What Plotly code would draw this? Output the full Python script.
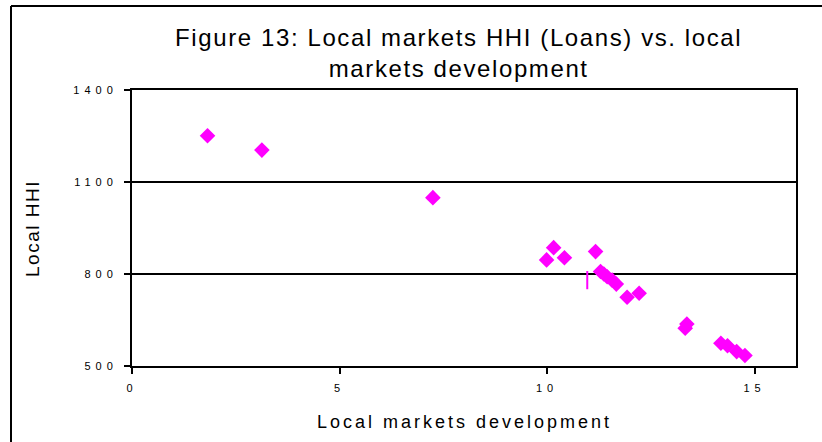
import plotly.graph_objects as go

# Data
dev = [1.82, 3.13, 7.25, 9.99, 10.16, 10.42, 11.17, 11.29, 11.37, 11.45, 11.57,
       11.67, 11.93, 12.22, 13.33, 13.37, 14.19, 14.35, 14.57, 14.77]
hhi = [1251, 1204, 1049, 846, 886, 853, 873, 808, 800, 791, 780,
       767, 724, 737, 623, 637, 574, 566, 547, 534]

# the odd little vertical mark near the cluster
mark_x = [10.97]
mark_y = [780]

x_ticks = [0, 5, 10, 15]
y_ticks = [500, 800, 1100, 1400]

FONT = "Liberation Sans, Arial, sans-serif"


def spaced(text, px):
    return f'<span style="letter-spacing:{px}px">{text}</span>'


fig = go.Figure()
fig.add_trace(
    go.Scatter(
        x=dev,
        y=hhi,
        mode="markers",
        marker=dict(symbol="diamond", size=12, color="#FF00FF", line=dict(width=0)),
        showlegend=False,
        hovertemplate="%{x}: %{y}<extra></extra>",
    )
)
fig.add_trace(
    go.Scatter(
        x=mark_x,
        y=mark_y,
        mode="markers",
        marker=dict(symbol="line-ns", size=13, color="#FF00FF",
                    line=dict(color="#FF00FF", width=2)),
        showlegend=False,
        hoverinfo="skip",
    )
)

fig.update_layout(
    width=822,
    height=442,
    margin=dict(l=132, r=26, t=90, b=76),
    paper_bgcolor="white",
    plot_bgcolor="white",
    font=dict(family=FONT, color="black"),
    title=dict(
        text=spaced("Figure 13: Local markets HHI (Loans) vs. local", 1.6)
        + "<br>" + spaced("markets development", 1.6),
        x=0.558,
        xanchor="center",
        xref="container",
        y=1 - 45.5 / 442,
        yanchor="middle",
        yref="container",
        font=dict(size=24, family=FONT, color="black"),
    ),
    xaxis=dict(
        range=[0, 16],
        tickvals=x_ticks,
        ticktext=[spaced(str(v), 5) for v in x_ticks],
        ticks="outside",
        ticklen=6,
        tickwidth=2,
        tickcolor="black",
        tickfont=dict(size=11, family=FONT, color="black"),
        ticklabelstandoff=5,
        showgrid=False,
        zeroline=False,
        showline=True,
        linecolor="black",
        linewidth=2,
        mirror=True,
    ),
    yaxis=dict(
        range=[500, 1400],
        tickvals=y_ticks,
        ticktext=[spaced(str(v), 5) for v in y_ticks],
        ticks="outside",
        ticklen=6,
        tickwidth=2,
        tickcolor="black",
        tickfont=dict(size=11, family=FONT, color="black"),
        ticklabelstandoff=4,
        showgrid=True,
        gridcolor="black",
        gridwidth=2,
        zeroline=False,
        showline=True,
        linecolor="black",
        linewidth=2,
        mirror=True,
    ),
    annotations=[
        dict(
            text=spaced("Local HHI", 1.5),
            x=(32 - 132) / 664,
            y=0.5,
            xref="paper",
            yref="paper",
            textangle=-90,
            showarrow=False,
            xanchor="center",
            yanchor="middle",
            font=dict(size=19, family=FONT, color="black"),
        ),
        dict(
            text=spaced("Local markets development", 3),
            x=0.5,
            y=(366 - 422) / 276,
            xref="paper",
            yref="paper",
            showarrow=False,
            xanchor="center",
            yanchor="middle",
            font=dict(size=18, family=FONT, color="black"),
        ),
    ],
    shapes=[
        # outer chart border (only top and left edges show in the crop)
        dict(type="line", xref="paper", yref="paper",
             x0=(11 - 132) / 664, x1=(822 - 132) / 664,
             y0=(366 - 6) / 276, y1=(366 - 6) / 276,
             line=dict(color="black", width=2)),
        dict(type="line", xref="paper", yref="paper",
             x0=(11 - 132) / 664, x1=(11 - 132) / 664,
             y0=(366 - 6) / 276, y1=(366 - 445) / 276,
             line=dict(color="black", width=2)),
    ],
)

# drop the browser's default 8px body margin so the figure sits at 0,0
fig.write_html(
    "out.html",
    config={"displayModeBar": False},
    post_script="document.body.style.margin='0';",
)
